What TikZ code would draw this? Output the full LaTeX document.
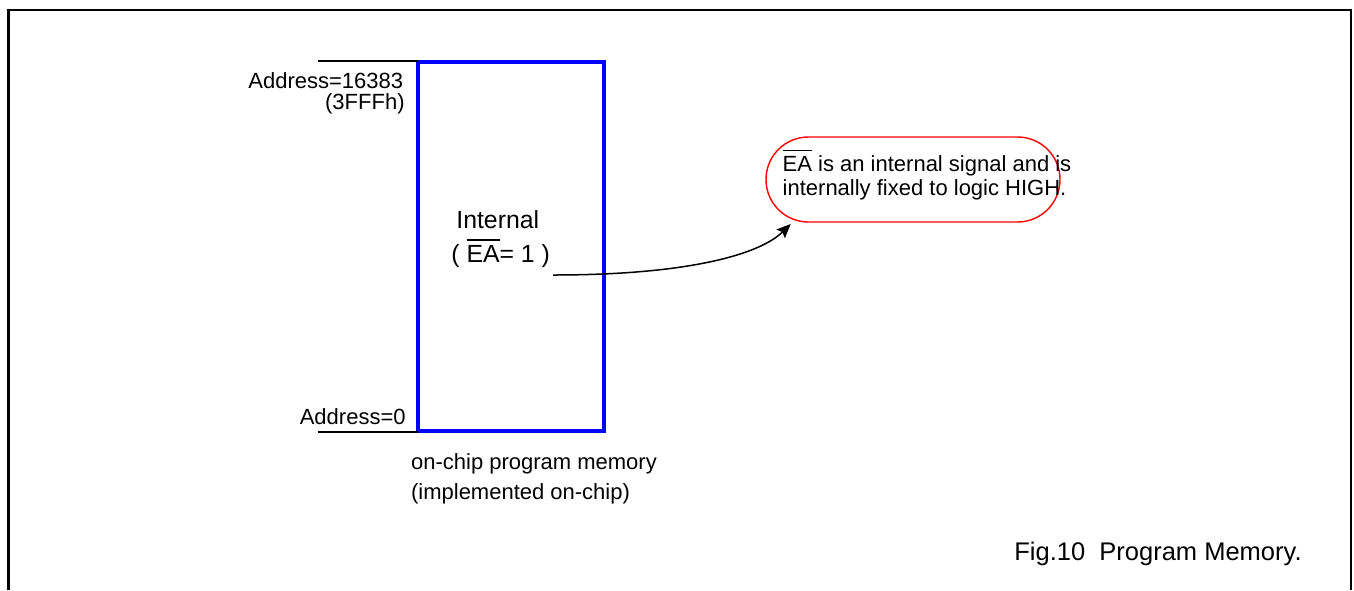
\documentclass[tikz,border=0pt]{standalone}
\usepackage{fontspec}
\setmainfont{Liberation Sans}
\usetikzlibrary{arrows.meta}
\newcommand\ovbar[1]{\leavevmode\vbox{\hrule height 0.65pt\kern2.4pt\hbox{#1}}}
\begin{document}
\begin{tikzpicture}[x=0.5pt,y=-0.5pt,
  frame/.style={line width=1.2pt,black},
  membox/.style={draw=blue,line width=2pt,inner sep=0pt,outer sep=0pt,minimum width=93pt,minimum height=184.7pt},
  notebox/.style={draw=red,line width=0.7pt,inner sep=0pt,rounded corners=21.2pt,minimum width=147pt,minimum height=42.5pt},
  addrline/.style={line width=0.7pt,black},
  conn/.style={line width=0.75pt,black,-{Stealth[length=7pt,width=6pt,inset=1.2pt]}},
  small/.style={inner sep=0pt,font=\fontsize{11pt}{13pt}\selectfont},
  big/.style={inner sep=0pt,font=\fontsize{12.4pt}{14pt}\selectfont}]
\path[use as bounding box] (0,0) rectangle (1354,590);
% outer frame
\draw[frame] (8.5,590) -- (8.5,10) -- (1351,10) -- (1351,590);
% memory block
\node[membox] (mem) at (511,246.7) {};
\coordinate (topL) at (318,61);
\coordinate (botL) at (318,432);
\draw[addrline] (topL) -- (topL -| mem.west);
\draw[addrline] (botL) -- (botL -| mem.west);
\node[small,anchor=base east] (a1) at (403.5,88) {Address=16383};
\node[small,anchor=base east] (a2) at (405,109.5) {(3FFFh)};
\node[small,anchor=base east] (a0) at (406,424) {Address=0};
\node[big,anchor=base west] (int) at (456,228) {Internal};
\node[big,anchor=base west] (ea) at (451,262.5) {( \ovbar{EA}= 1 )};
\node[small,anchor=base west] (oc1) at (410.7,469.5) {on-chip program memory};
\node[small,anchor=base west] (oc2) at (410.7,499.5) {(implemented on-chip)};
% note
\node[notebox] (note) at (913,179.5) {};
\node[small,anchor=base west] (n1) at (782.3,171) {\ovbar{EA} is an internal signal and is};
\node[small,anchor=base west] (n2) at (782.3,195.7) {internally fixed to logic HIGH.};
% connector
\coordinate (src) at (553,275);
\coordinate (tip) at (790.7,224);
\draw[conn] (src) .. controls (690,275) and (760,254) .. (tip);
% caption
\node[anchor=base west,inner sep=0pt,font=\fontsize{12.75pt}{15pt}\selectfont] (cap) at (1014,560) {Fig.10\ \ Program Memory.};
\end{tikzpicture}
\end{document}
